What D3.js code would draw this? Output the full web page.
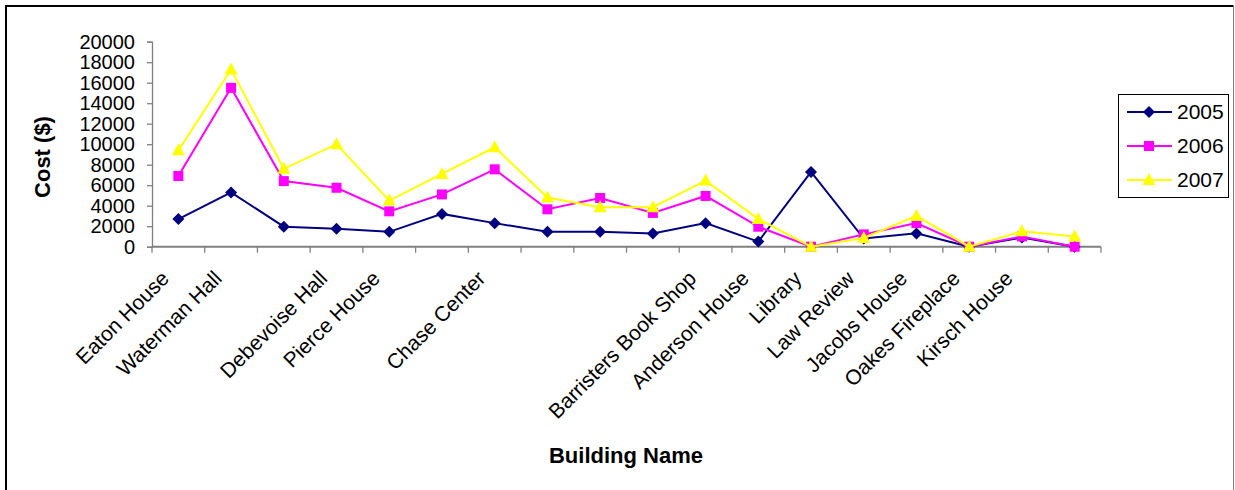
<!DOCTYPE html>
<html>
<head>
<meta charset="utf-8">
<script src="https://cdn.jsdelivr.net/npm/d3@7"></script>
<style>
  html, body { margin: 0; padding: 0; background: #fff; }
  svg { display: block; font-family: "Liberation Sans", Arial, sans-serif; }
</style>
</head>
<body>
<svg id="chart" width="1235" height="490"></svg>
<script>
// Building names along the category axis (blank entries have no label)
const categories = [
  "Eaton House", "Waterman Hall", "", "Debevoise Hall", "Pierce House", "",
  "Chase Center", "", "", "", "Barristers Book Shop", "Anderson House",
  "Library", "Law Review", "Jacobs House", "Oakes Fireplace", "Kirsch House", ""
];

// Yearly cost per building ($)
const cost2005 = [2700, 5300, 1950, 1750, 1450, 3200, 2300, 1450, 1450, 1300, 2300, 500, 7300, 800, 1300, 0, 900, 0];
const cost2006 = [6900, 15500, 6400, 5750, 3450, 5100, 7550, 3650, 4750, 3300, 4950, 1950, 0, 1200, 2300, 0, 1000, 0];
const cost2007 = [9400, 17300, 7600, 10000, 4500, 7100, 9700, 4800, 3850, 3850, 6450, 2700, 0, 850, 3000, 0, 1500, 1000];

const years = ["2005", "2006", "2007"];
const yTicks = [0, 2000, 4000, 6000, 8000, 10000, 12000, 14000, 16000, 18000, 20000];

const seriesList = [
  { name: years[0], values: cost2005, color: "#000080", symbol: "diamond" },
  { name: years[1], values: cost2006, color: "#FF00FF", symbol: "square" },
  { name: years[2], values: cost2007, color: "#FFFF00", symbol: "triangle" }
];

const svg = d3.select("#chart");
const font = "21px";
const tickFont = "20px";
const titleFont = "22px";

// Chart area frame
svg.append("line").attr("x1", 6).attr("y1", 6).attr("x2", 1233.5).attr("y2", 6)
  .attr("stroke", "#000").attr("stroke-width", 2);
svg.append("line").attr("x1", 6).attr("y1", 5).attr("x2", 6).attr("y2", 495)
  .attr("stroke", "#000").attr("stroke-width", 2);
svg.append("line").attr("x1", 1233.5).attr("y1", 6).attr("x2", 1233.5).attr("y2", 495)
  .attr("stroke", "#808080").attr("stroke-width", 1);

const plot = { left: 152, right: 1101, top: 41.7, bottom: 246.7 };
const idx = d3.range(categories.length);

const x = d3.scaleBand().domain(idx).range([plot.left, plot.right]).padding(0);
const y = d3.scaleLinear().domain([0, 20000]).range([plot.bottom, plot.top]);
const cx = i => x(i) + x.bandwidth() / 2;

// Y axis
const yAxis = svg.append("g")
  .attr("transform", `translate(${plot.left},0)`)
  .call(d3.axisLeft(y).tickValues(yTicks).tickFormat(d3.format("d")).tickSize(5).tickPadding(12));
yAxis.select(".domain").attr("stroke", "#808080").attr("stroke-width", 1.3);
yAxis.selectAll(".tick line").attr("stroke", "#808080").attr("stroke-width", 1.3);
yAxis.selectAll(".tick text").attr("fill", "#000").style("font-size", tickFont)
  .style("font-family", "Liberation Sans, Arial, sans-serif");

// X axis line with ticks between categories
const xAxisG = svg.append("g").attr("transform", `translate(0,${plot.bottom})`);
xAxisG.append("line").attr("x1", plot.left).attr("x2", plot.right)
  .attr("y1", 0).attr("y2", 0).attr("stroke", "#808080").attr("stroke-width", 2);
const boundaries = d3.range(categories.length + 1).map(i => i === categories.length ? plot.right : x(i));
xAxisG.selectAll("line.tick").data(boundaries).join("line")
  .attr("class", "tick")
  .attr("x1", d => d).attr("x2", d => d)
  .attr("y1", 0).attr("y2", 6)
  .attr("stroke", "#808080").attr("stroke-width", 1.3);

// Rotated category labels
svg.append("g").selectAll("text")
  .data(idx.filter(i => categories[i] !== ""))
  .join("text")
  .attr("transform", i => `translate(${cx(i) - 8},${plot.bottom + 33}) rotate(-45)`)
  .attr("text-anchor", "end")
  .style("font-size", font)
  .attr("fill", "#000")
  .text(i => categories[i]);

// Axis titles
svg.append("text")
  .attr("transform", `translate(50,157) rotate(-90)`)
  .attr("text-anchor", "middle")
  .style("font-size", titleFont).style("font-weight", "bold")
  .text("Cost ($)");
svg.append("text")
  .attr("x", 626).attr("y", 463)
  .attr("text-anchor", "middle")
  .style("font-size", titleFont).style("font-weight", "bold")
  .text("Building Name");

// Marker shapes
function drawMarker(g, s, px, py) {
  const shapes = {
    diamond: "M0,-6L6,0L0,6L-6,0Z",
    square: "M-5,-5H5V5H-5Z",
    triangle: "M0,-7L6.5,5L-6.5,5Z"
  };
  g.append("path").attr("d", shapes[s.symbol])
    .attr("transform", `translate(${px},${py})`).attr("fill", s.color);
}

// Series lines and markers
const line = d3.line().x((d, i) => cx(i)).y(d => y(d));
seriesList.forEach(s => {
  const g = svg.append("g");
  g.append("path").datum(s.values)
    .attr("d", line).attr("fill", "none")
    .attr("stroke", s.color).attr("stroke-width", 2);
  s.values.forEach((v, i) => drawMarker(g, s, cx(i), y(v)));
});

// Legend
const legend = { x: 1118, y: 94, w: 110, h: 103 };
svg.append("rect")
  .attr("x", legend.x + 0.5).attr("y", legend.y + 0.5)
  .attr("width", legend.w).attr("height", legend.h)
  .attr("fill", "#fff").attr("stroke", "#000").attr("stroke-width", 1);
const rowY = [112, 146, 180];
seriesList.forEach((s, k) => {
  const g = svg.append("g");
  g.append("line").attr("x1", 1127).attr("x2", 1172)
    .attr("y1", rowY[k]).attr("y2", rowY[k])
    .attr("stroke", s.color).attr("stroke-width", 2);
  drawMarker(g, s, 1149, rowY[k]);
  g.append("text").attr("x", 1177).attr("y", rowY[k]).attr("dy", "0.35em")
    .style("font-size", font).attr("fill", "#000").text(s.name);
});
</script>
</body>
</html>
